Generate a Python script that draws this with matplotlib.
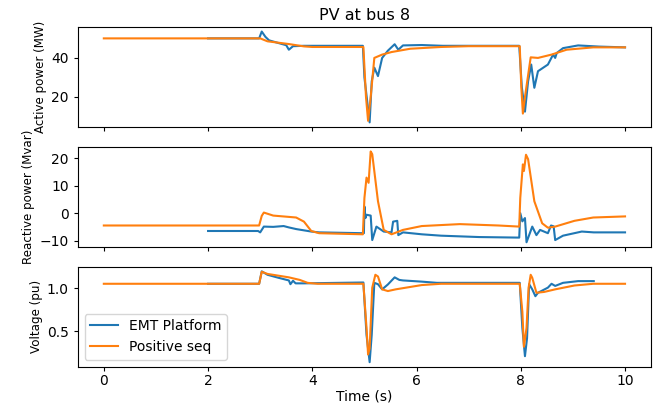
import matplotlib
matplotlib.use("Agg")
import matplotlib.pyplot as plt

# values (breakpoints, time in s)
emt_p_t = [2.0, 2.98, 3.03, 3.1, 3.17, 3.3, 3.5, 3.55, 3.63, 3.84, 4.97, 5.0, 5.1, 5.14, 5.19,
           5.26, 5.34, 5.45, 5.58, 5.65, 5.74, 6.1, 6.5, 7.97, 8.02, 8.08, 8.14, 8.2, 8.26,
           8.33, 8.52, 8.62, 8.66, 8.69, 8.81, 9.1, 9.5, 10.0]
emt_p = [50.0, 50.0, 53.5, 50.8, 49.0, 48.0, 46.5, 44.2, 46.0, 46.2, 46.2, 30.0, 7.0, 28.0, 35.0,
         30.7, 40.0, 43.7, 47.0, 44.2, 46.4, 46.6, 46.2, 46.2, 25.0, 12.5, 28.0, 36.6, 24.7,
         33.2, 36.6, 41.7, 40.0, 42.5, 45.0, 46.4, 45.8, 45.4]
pos_p_t = [0.0, 3.0, 3.14, 3.55, 3.84, 4.0, 4.98, 5.03, 5.07, 5.12, 5.19, 5.34, 5.52, 5.88,
           6.47, 7.0, 7.98, 8.01, 8.04, 8.08, 8.19, 8.33, 8.59, 8.88, 9.39, 10.0]
pos_p = [50.0, 50.0, 48.5, 47.1, 45.9, 45.6, 45.6, 20.0, 7.8, 20.0, 40.0, 41.7, 43.0, 44.7,
         45.6, 46.0, 46.0, 25.0, 11.5, 20.0, 40.3, 40.0, 41.7, 44.2, 45.4, 45.4]

emt_q_t = [2.0, 2.96, 3.0, 3.07, 3.25, 3.45, 3.55, 3.69, 3.98, 4.13, 4.97, 4.99, 5.0, 5.02,
           5.04, 5.12, 5.15, 5.23, 5.3, 5.37, 5.52, 5.55, 5.63, 5.65, 5.74, 6.1, 6.47, 7.2,
           7.97, 7.99, 8.03, 8.08, 8.11, 8.22, 8.3, 8.37, 8.52, 8.58, 8.63, 8.66, 8.81,
           9.17, 9.4, 10.0]
emt_q = [-6.5, -6.5, -7.0, -4.9, -5.0, -4.7, -5.2, -5.8, -6.7, -7.0, -7.3, -7.3, 2.4, -1.8,
         -0.6, -0.9, -9.8, -4.9, -5.8, -6.7, -7.0, -3.1, -2.8, -8.0, -7.0, -7.7, -8.2, -8.7,
         -8.9, 0.0, -3.0, -1.8, -10.6, -4.9, -8.0, -6.1, -7.3, -4.5, -4.8, -9.8, -8.2,
         -6.7, -7.0, -7.0]
pos_q_t = [0.0, 2.98, 3.03, 3.07, 3.25, 3.69, 3.84, 3.98, 4.13, 4.97, 5.0, 5.04, 5.08, 5.12,
           5.15, 5.26, 5.37, 5.52, 5.74, 6.1, 6.83, 7.57, 7.97, 7.99, 8.04, 8.06, 8.1, 8.14,
           8.26, 8.41, 8.52, 8.66, 9.03, 9.39, 10.0]
pos_q = [-4.5, -4.5, -1.0, 0.2, -0.9, -1.6, -3.1, -6.5, -7.3, -7.7, 5.5, 12.9, 11.0, 22.4,
         21.4, 4.3, -6.1, -7.7, -6.1, -4.7, -4.0, -4.5, -4.9, 5.5, 17.7, 15.3, 21.2, 19.6,
         4.3, -3.7, -5.3, -4.9, -2.8, -1.6, -1.2]

emt_v_t = [2.0, 2.98, 3.03, 3.14, 3.35, 3.55, 3.58, 3.63, 3.68, 3.84, 4.98, 5.04, 5.1, 5.14,
           5.19, 5.26, 5.34, 5.45, 5.58, 5.67, 5.74, 6.1, 6.39, 7.98, 8.03, 8.08, 8.12, 8.16,
           8.22, 8.28, 8.33, 8.52, 8.59, 8.66, 8.81, 9.1, 9.4]
emt_v = [1.055, 1.055, 1.2, 1.16, 1.125, 1.094, 1.05, 1.09, 1.06, 1.06, 1.07, 0.46, 0.14, 0.46,
         1.066, 1.05, 0.99, 1.047, 1.13, 1.1, 1.094, 1.08, 1.066, 1.066, 0.54, 0.21, 0.42, 1.05,
         0.99, 0.91, 0.95, 1.01, 1.055, 1.03, 1.066, 1.086, 1.086]
pos_v_t = [0.0, 2.98, 3.03, 3.14, 3.55, 3.76, 3.91, 4.1, 4.98, 5.04, 5.07, 5.1, 5.15, 5.21,
           5.26, 5.34, 5.45, 5.6, 6.1, 6.47, 7.98, 8.03, 8.06, 8.11, 8.15, 8.19, 8.22, 8.3,
           8.45, 8.66, 9.03, 9.39, 10.0]
pos_v = [1.055, 1.055, 1.195, 1.17, 1.13, 1.1, 1.066, 1.055, 1.055, 0.54, 0.23, 0.3, 1.01, 1.16,
         1.14, 0.99, 0.97, 0.99, 1.04, 1.055, 1.055, 0.73, 0.32, 0.54, 1.01, 1.16, 1.125, 0.95,
         0.96, 0.99, 1.035, 1.055, 1.055]

ylabels = ["Active power (MW)", "Reactive power (Mvar)", "Voltage (pu)"]

fig, axes = plt.subplots(3, 1, sharex=True, figsize=(6.59, 4.03), dpi=100)
fig.subplots_adjust(left=0.118, right=0.988, top=0.933, bottom=0.09, hspace=0.2)

series = [(emt_p_t, emt_p, pos_p_t, pos_p),
          (emt_q_t, emt_q, pos_q_t, pos_q),
          (emt_v_t, emt_v, pos_v_t, pos_v)]
for ax, (et, ev, pt, pv), lab in zip(axes, series, ylabels):
    ax.plot(et, ev, color="#1f77b4", lw=1.5, label="EMT Platform")
    ax.plot(pt, pv, color="#ff7f0e", lw=1.5, label="Positive seq")
    ax.set_ylabel(lab, fontsize=8.6, labelpad=3)
    ax.tick_params(axis="x", pad=2.5, length=3)
    ax.tick_params(axis="y", length=3)

axes[0].set_yticks([20, 40])
axes[1].set_yticks([-10, 0, 10, 20])
axes[2].set_yticks([0.5, 1.0])
axes[2].set_xticks([0, 2, 4, 6, 8, 10])
axes[2].set_xlabel("Time (s)", labelpad=0.5)
axes[2].legend(loc="lower left")
axes[0].set_title("PV at bus 8", fontsize=11.5, pad=5)

fig.savefig("out.png", dpi=100)
